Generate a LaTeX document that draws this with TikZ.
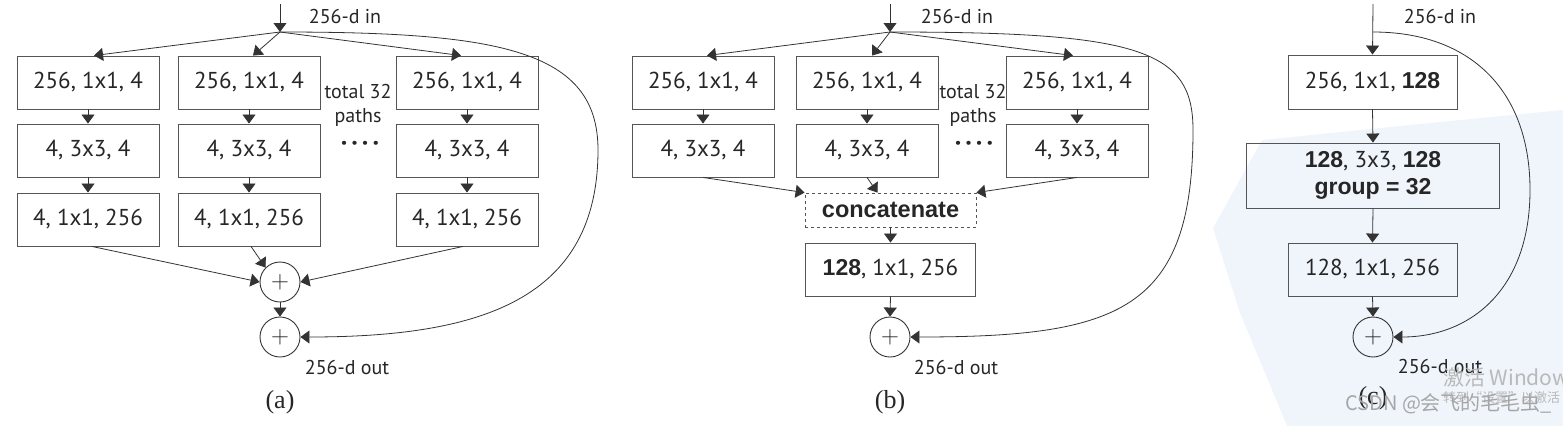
\documentclass[tikz,border=0pt]{standalone}
\usepackage{fontspec}
\setmainfont{PT Sans}
\newfontfamily\arial{Liberation Sans}
\newfontfamily\tnr{Liberation Serif}
\newfontfamily\cjk{Noto Sans CJK SC}
\usetikzlibrary{arrows.meta}
\definecolor{lncol}{HTML}{333333}
\definecolor{bx}{HTML}{555555}
\definecolor{tx}{HTML}{262626}
\definecolor{wash}{HTML}{EFF5FB}
\newcommand{\bb}[1]{{\arial\bfseries #1}}
\tikzset{
  box/.style={draw=bx, line width=0.9pt, minimum width=142pt, minimum height=53pt, inner sep=0pt, text=tx, font=\fontsize{23}{27}\selectfont, align=center},
  plus/.style={circle, draw=lncol, line width=0.9pt, minimum size=40pt, inner sep=0pt, text=tx, font=\fontsize{30}{30}\selectfont},
  arr/.style={draw=lncol, line width=0.8pt, -{Triangle[length=9pt,width=13pt]}},
  lbl/.style={text=tx, font=\fontsize{20}{24}\selectfont, inner sep=0pt, align=center},
  captxt/.style={text=tx, font=\tnr\fontsize{26}{26}\selectfont, inner sep=0pt},
  dots/.style={text=tx, font=\bfseries\fontsize{26}{26}\selectfont, inner sep=0pt},
  wm/.style={text=gray!55, inner sep=0pt, anchor=west}
}
\begin{document}
\begin{tikzpicture}[x=1pt,y=-1pt]
\useasboundingbox (0,0) rectangle (1563,426);
% faint wash in (c)
\fill[wash] (1213,228) -- (1262,140) -- (1420,124) -- (1563,110) -- (1563,426) -- (1287,426) -- (1240,313) -- cycle;

% ================= (a) =================
\node[box] (a11) at (88,82.5) {256, 1x1, 4};
\node[box] (a12) at (88,150.5) {4, 3x3, 4};
\node[box] (a13) at (88,219.5) {4, 1x1, 256};
\node[box] (a21) at (249,82.5) {256, 1x1, 4};
\node[box] (a22) at (249,150.5) {4, 3x3, 4};
\node[box] (a23) at (249,219.5) {4, 1x1, 256};
\node[box] (a31) at (467,82.5) {256, 1x1, 4};
\node[box] (a32) at (467,150.5) {4, 3x3, 4};
\node[box] (a33) at (467,219.5) {4, 1x1, 256};
\node[plus] (pa1) at (280,282) {$+$};
\node[plus] (pa2) at (280,337) {$+$};
\coordinate (ta) at (280,4);
\coordinate (ina) at (280,32);
\node[lbl] (inla) at (345,16) {256-d in};
\node[lbl] (outla) at (347,367) {256-d out};
\node[lbl] (tota) at (358,105) {total 32\\paths};
\node[dots] (dota) at (360,146) {·\hspace{4pt}·\hspace{4pt}·\hspace{4pt}·};
\node[captxt] (capa) at (280,402) {(a)};
\draw[arr] (ta) -- (ina);
\draw[arr] (ina) -- ([xshift=6pt]a11.north);
\draw[arr] (ina) -- ([xshift=4pt]a21.north);
\draw[arr] (ina) -- ([xshift=-6pt]a31.north);
\foreach \c in {1,2,3}{
  \draw[arr] (a\c1.south) -- (a\c2.north);
  \draw[arr] (a\c2.south) -- (a\c3.north);
}
\draw[arr] ([xshift=4pt]a13.south) -- (pa1.west);
\draw[arr] ([xshift=2pt]a23.south) -- (pa1.north west);
\draw[arr] ([xshift=-4pt]a33.south) -- (pa1.east);
\draw[arr] (pa1.south) -- (pa2.north);
\draw[arr] (ina) .. controls (500,32) and (598,50) .. (598,150) .. controls (598,300) and (480,337) .. (pa2.east);

% ================= (b) =================
\node[box] (b11) at (703,82.5) {256, 1x1, 4};
\node[box] (b12) at (703,150.5) {4, 3x3, 4};
\node[box] (b21) at (867,82.5) {256, 1x1, 4};
\node[box] (b22) at (867,150.5) {4, 3x3, 4};
\node[box] (b31) at (1077,82.5) {256, 1x1, 4};
\node[box] (b32) at (1077,150.5) {4, 3x3, 4};
\node[box, dashed, line width=0.8pt, minimum width=171pt, minimum height=34pt, font=\arial\bfseries\fontsize{23.5}{26}\selectfont] (cat) at (890.5,210) {concatenate};
\node[box, minimum width=170pt] (b4) at (890.5,269.5) {\bb{128}, 1x1, 256};
\node[plus] (pb) at (890,337) {$+$};
\coordinate (tb) at (890,4);
\coordinate (inb) at (890,32);
\node[lbl] (inlb) at (957,16) {256-d in};
\node[lbl] (outlb) at (956,367) {256-d out};
\node[lbl] (totb) at (973,105) {total 32\\paths};
\node[dots] (dotb) at (974,146) {·\hspace{4pt}·\hspace{4pt}·\hspace{4pt}·};
\node[captxt] (capb) at (890,402) {(b)};
\draw[arr] (tb) -- (inb);
\draw[arr] (inb) -- ([xshift=4pt]b11.north);
\draw[arr] (inb) -- ([xshift=5pt]b21.north);
\draw[arr] (inb) -- ([xshift=-4pt]b31.north);
\foreach \c in {1,2,3}{
  \draw[arr] (b\c1.south) -- (b\c2.north);
}
\draw[arr] (b12.south) -- (cat.north west);
\draw[arr] (b22.south) -- ([xshift=-13pt]cat.north);
\draw[arr] (b32.south) -- (cat.north east);
\draw[arr] (cat.south) -- (b4.north);
\draw[arr] (b4.south) -- (pb.north);
\draw[arr] (inb) .. controls (1140,32) and (1193,50) .. (1193,130) .. controls (1193,310) and (1120,337) .. (pb.east);

% ================= (c) =================
\node[box, minimum width=169pt, minimum height=54pt] (c1) at (1372.5,82) {256, 1x1, \bb{128}};
\node[box, minimum width=253pt, minimum height=65pt, font=\fontsize{23}{28}\selectfont] (c2) at (1373,175.5) {\bb{128}, 3x3, \bb{128}\\[-1pt]\bb{group = 32}};
\node[box, minimum width=169pt] (c3) at (1372.5,269.5) {128, 1x1, 256};
\node[plus] (pc) at (1373,337) {$+$};
\coordinate (tc) at (1373,4);
\coordinate (inc) at (1373,32);
\node[lbl] (inlc) at (1440,16) {256-d in};
\node[lbl] (outlc) at (1440,366) {256-d out};
\node[captxt] (capc) at (1373,398) {(c)};
\draw[arr] (tc) -- (c1.north);
\draw[arr] (c1.south) -- (c2.north);
\draw[arr] (c2.south) -- (c3.north);
\draw[arr] (c3.south) -- (pc.north);
\draw[arr] (inc) .. controls (1470,32) and (1530,90) .. (1530,190) .. controls (1530,290) and (1470,337) .. (pc.east);

% watermarks
\node[wm, font=\cjk\fontsize{21}{21}\selectfont] (wm1) at (1443,378) {激活 Windows};
\node[wm, font=\cjk\fontsize{13}{13}\selectfont] (wm2) at (1443,398) {转到“设置”以激活};
\node[wm, font=\cjk\fontsize{20}{20}\selectfont, text=gray!70] (wm3) at (1345,404) {CSDN @会飞的毛毛虫\_};
\end{tikzpicture}
\end{document}
